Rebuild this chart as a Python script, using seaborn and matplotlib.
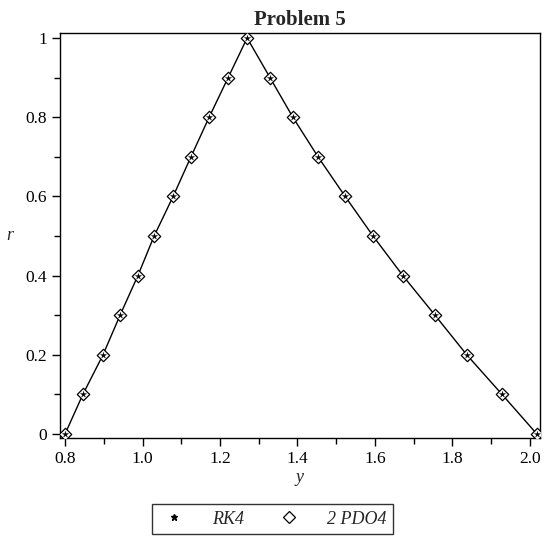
import matplotlib
matplotlib.use("Agg")
import matplotlib.pyplot as plt
import seaborn as sns
import pandas as pd
import numpy as np
from matplotlib.lines import Line2D
from matplotlib.ticker import MultipleLocator, FixedLocator

# Data
y_vals = [0.800, 0.846, 0.898, 0.942, 0.988, 1.030, 1.079, 1.125, 1.172, 1.221, 1.270,
          1.329, 1.388, 1.453, 1.523, 1.595, 1.672, 1.755, 1.837, 1.928, 2.018]
r_rk4 = [0.0, 0.1, 0.2, 0.3, 0.4, 0.5, 0.6, 0.7, 0.8, 0.9, 1.0,
         0.9, 0.8, 0.7, 0.6, 0.5, 0.4, 0.3, 0.2, 0.1, 0.0]
r_pdo4 = [0.0, 0.1, 0.2, 0.3, 0.4, 0.5, 0.6, 0.7, 0.8, 0.9, 1.0,
          0.9, 0.8, 0.7, 0.6, 0.5, 0.4, 0.3, 0.2, 0.1, 0.0]
x_ticks = [0.8, 1.0, 1.2, 1.4, 1.6, 1.8, 2.0]
x_tick_labels = ["0.8", "1.0", "1.2", "1.4", "1.6", "1.8", "2.0"]
y_ticks = [0, 0.2, 0.4, 0.6, 0.8, 1.0]
y_tick_labels = ["0", "0.2", "0.4", "0.6", "0.8", "1"]
series_names = ["RK4", "2 PDO4"]

sns.set_style("white")
plt.rcParams['font.family'] = ['Liberation Serif', 'DejaVu Serif']

df_rk = pd.DataFrame({"y": y_vals, "r": r_rk4})
df_pd = pd.DataFrame({"y": y_vals, "r": r_pdo4})

fig = plt.figure(figsize=(5.5, 5.38), dpi=100)
ax = fig.add_axes([60/550, 1-438/538, 480/550, 405/538])

sns.lineplot(data=df_pd, x="y", y="r", sort=False, color="black", lw=1.0, ax=ax)
sns.scatterplot(data=df_pd, x="y", y="r", marker="D", s=40, facecolor="white",
                edgecolor="black", linewidth=0.9, ax=ax, zorder=3)
sns.scatterplot(data=df_rk, x="y", y="r", marker="*", s=22, color="black",
                edgecolor="black", linewidth=0.2, ax=ax, zorder=4)

ax.set_xlim(0.787, 2.026)
ax.set_ylim(-0.010, 1.0126)
ax.xaxis.set_major_locator(FixedLocator(x_ticks))
ax.set_xticklabels(x_tick_labels)
ax.yaxis.set_major_locator(FixedLocator(y_ticks))
ax.set_yticklabels(y_tick_labels)
ax.xaxis.set_minor_locator(MultipleLocator(0.1))
ax.yaxis.set_minor_locator(MultipleLocator(0.1))
ax.tick_params(axis="both", which="major", direction="out", length=6, width=1,
               labelsize=12.5, color="black", labelcolor="black",
               bottom=True, left=True, top=False, right=False)
ax.tick_params(axis="both", which="minor", direction="out", length=4, width=1,
               color="black", bottom=True, left=True, top=False, right=False)
for s in ax.spines.values():
    s.set_color("black")
    s.set_linewidth(1.0)

ax.set_xlabel("y", fontsize=13, style="italic", labelpad=1)
ax.set_ylabel("r", fontsize=13, style="italic", rotation=0, labelpad=11, va="center")
ax.set_title("Problem 5", fontsize=15, fontweight="bold", pad=6)

handles = [Line2D([], [], marker="*", ls="none", color="black", markersize=5),
           Line2D([], [], marker="D", ls="none", markerfacecolor="white",
                  markeredgecolor="black", markersize=6.5, markeredgewidth=0.9)]
leg = fig.legend(handles, series_names, loc="center", bbox_to_anchor=(0.495, 0.035),
                 ncol=2, frameon=True, fancybox=False, edgecolor="black",
                 prop={"family": "Liberation Serif", "style": "italic", "size": 13},
                 handletextpad=1.2, columnspacing=1.6, borderpad=0.35, handlelength=1.8)
leg.get_frame().set_linewidth(1.0)

fig.savefig("out.png", dpi=100)
